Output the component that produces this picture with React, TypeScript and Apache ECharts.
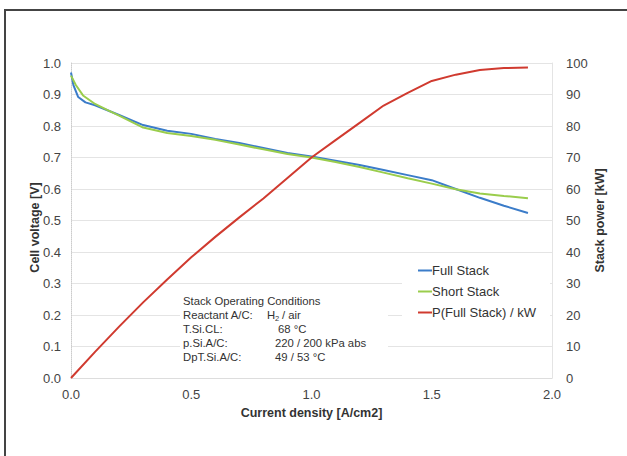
import React, { useEffect, useRef } from "react";
import * as echarts from "echarts";

const fullX = [0, 0.01, 0.03, 0.06, 0.1, 0.2, 0.3, 0.4, 0.5, 0.6, 0.7, 0.8, 0.9, 1.0, 1.1, 1.2, 1.3, 1.4, 1.5, 1.6, 1.7, 1.8, 1.9];
const fullV = [0.97, 0.93, 0.892, 0.875, 0.866, 0.835, 0.803, 0.785, 0.775, 0.759, 0.746, 0.73, 0.714, 0.703, 0.69, 0.676, 0.66, 0.644, 0.628, 0.6, 0.572, 0.547, 0.524];

const shortX = [0, 0.02, 0.05, 0.1, 0.15, 0.2, 0.3, 0.4, 0.5, 0.6, 0.7, 0.8, 0.9, 1.0, 1.1, 1.2, 1.3, 1.4, 1.5, 1.6, 1.7, 1.8, 1.9];
const shortV = [0.96, 0.93, 0.897, 0.87, 0.851, 0.833, 0.795, 0.778, 0.768, 0.756, 0.741, 0.726, 0.711, 0.7, 0.686, 0.67, 0.652, 0.634, 0.617, 0.599, 0.586, 0.578, 0.571];

const powerX = [0, 0.1, 0.2, 0.3, 0.4, 0.5, 0.6, 0.7, 0.8, 0.9, 1.0, 1.1, 1.2, 1.3, 1.4, 1.5, 1.6, 1.7, 1.8, 1.9];
const powerKW = [0, 8.3, 16.3, 24, 31.3, 38.3, 44.8, 51, 57, 63.5, 70, 75.5, 81, 86.5, 90.5, 94.3, 96.3, 97.8, 98.4, 98.6];

const seriesNames = ["Full Stack", "Short Stack", "P(Full Stack) / kW"];
const seriesColors = ["#3b7cc9", "#9acd4c", "#d03a2f"];

const condLabels = ["Reactant A/C:", "T.Si.CL:", "p.Si.A/C:", "DpT.Si.A/C:"];
const condValues = ["", "68 °C", "220 / 200 kPa abs", "49 / 53 °C"];

const zip = (xs: number[], ys: number[]) => xs.map((x, i) => [x, ys[i]]);

export default function App() {
  const ref = useRef<HTMLDivElement>(null);
  useEffect(() => {
    const chart = echarts.init(ref.current!, null, { renderer: "svg" });
    const font = "Liberation Sans, Arial, sans-serif";
    const textStyle = { fontFamily: font, fontSize: 11.3, fill: "#333" };
    const rowY = [301, 315, 329, 343, 357];
    const graphics: any[] = [
      { type: "rect", z: -10, shape: { x: 5, y: 10, width: 640, height: 460 }, style: { fill: "#fff", stroke: "#444", lineWidth: 2 } },
      { type: "rect", z: 1, shape: { x: 180, y: 292, width: 208, height: 72 }, style: { fill: "#fff" } },
      { type: "rect", z: 1, shape: { x: 402, y: 258, width: 148, height: 76 }, style: { fill: "#fff" } },
      { type: "text", z: 5, x: 183, y: rowY[0], style: { ...textStyle, text: "Stack Operating Conditions", verticalAlign: "middle" } },
    ];
    condLabels.forEach((l, i) => {
      graphics.push({ type: "text", z: 5, x: 183, y: rowY[i + 1], style: { ...textStyle, text: l, verticalAlign: "middle" } });
      if (condValues[i]) {
        graphics.push({ type: "text", z: 5, x: i === 1 ? 278 : 275, y: rowY[i + 1], style: { ...textStyle, text: condValues[i], verticalAlign: "middle" } });
      }
    });
    graphics.push({ type: "text", z: 5, x: 267, y: rowY[1], style: { ...textStyle, text: "H", verticalAlign: "middle" } });
    graphics.push({ type: "text", z: 5, x: 275, y: rowY[1] + 3, style: { ...textStyle, fontSize: 7.5, text: "2", verticalAlign: "middle" } });
    graphics.push({ type: "text", z: 5, x: 282, y: rowY[1], style: { ...textStyle, text: "/ air", verticalAlign: "middle" } });

    chart.setOption({
      animation: false,
      textStyle: { fontFamily: font },
      graphic: graphics,
      grid: { left: 71, right: 75, top: 63, bottom: 78 },
      legend: {
        data: seriesNames,
        orient: "vertical",
        left: 413,
        top: 259,
        itemWidth: 14,
        itemHeight: 2,
        itemGap: 8,
        icon: "rect",
        z: 6,
        textStyle: { fontSize: 13, color: "#333", fontFamily: font, padding: [0, 0, 0, -5] },
      },
      xAxis: {
        type: "value",
        min: 0,
        max: 2,
        interval: 0.5,
        name: "Current density [A/cm2]",
        nameLocation: "middle",
        nameGap: 28,
        nameMoveOverlap: false,
        nameTextStyle: { fontWeight: "bold", fontSize: 12.5, color: "#333" },
        axisLine: { show: true, lineStyle: { color: "#ddd" } },
        axisTick: { show: false },
        splitLine: { show: false },
        axisLabel: { fontSize: 13, color: "#444", margin: 10, formatter: (v: number) => v.toFixed(1) },
      },
      yAxis: [
        {
          type: "value",
          min: 0,
          max: 1,
          interval: 0.1,
          name: "Cell voltage [V]",
          nameLocation: "middle",
          nameRotate: 90,
          nameGap: 30,
          nameMoveOverlap: false,
          nameTextStyle: { fontWeight: "bold", fontSize: 12.5, color: "#333", padding: [0, 14, 0, 0] },
          axisLine: { show: true, lineStyle: { color: "#ccc", type: "dotted" } },
          axisTick: { show: false },
          splitLine: { show: true, lineStyle: { color: "#e4e4e4" } },
          axisLabel: { fontSize: 13, color: "#444", margin: 10, formatter: (v: number) => v.toFixed(1) },
        },
        {
          type: "value",
          min: 0,
          max: 100,
          interval: 10,
          position: "right",
          name: "Stack power [kW]",
          nameLocation: "middle",
          nameRotate: 90,
          nameGap: 41,
          nameMoveOverlap: false,
          nameTextStyle: { fontWeight: "bold", fontSize: 12.5, color: "#333" },
          axisLine: { show: true, lineStyle: { color: "#e4e4e4" } },
          axisTick: { show: false },
          splitLine: { show: false },
          axisLabel: { fontSize: 13, color: "#444", margin: 14 },
        },
      ],
      series: [
        { name: seriesNames[0], type: "line", data: zip(fullX, fullV), yAxisIndex: 0, showSymbol: false, z: 3, lineStyle: { width: 2, color: seriesColors[0] }, itemStyle: { color: seriesColors[0] } },
        { name: seriesNames[1], type: "line", data: zip(shortX, shortV), yAxisIndex: 0, showSymbol: false, z: 3, lineStyle: { width: 2, color: seriesColors[1] }, itemStyle: { color: seriesColors[1] } },
        { name: seriesNames[2], type: "line", data: zip(powerX, powerKW), yAxisIndex: 1, showSymbol: false, z: 3, lineStyle: { width: 2, color: seriesColors[2] }, itemStyle: { color: seriesColors[2] } },
      ],
    });
    return () => chart.dispose();
  }, []);
  return <div ref={ref} style={{ position: "absolute", left: 0, top: 0, width: 627, height: 456 }} />;
}
